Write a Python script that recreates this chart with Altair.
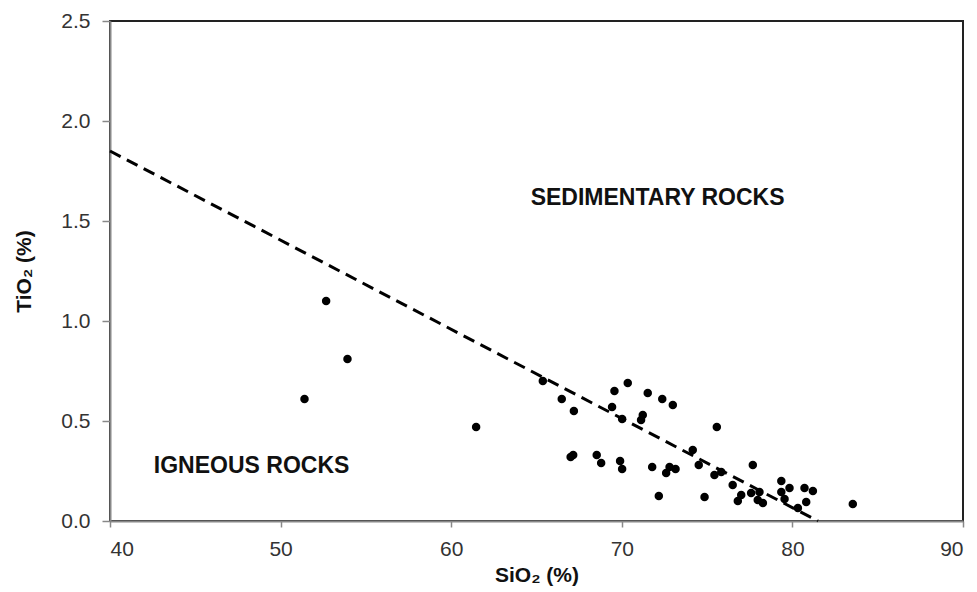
import altair as alt
import pandas as pd

sio2 = [51.4, 52.67, 53.92, 61.46, 65.37, 66.48, 67.19, 69.57, 70.35, 69.43,
        70.02, 71.23, 71.13, 71.52, 72.37, 72.99, 67.0, 67.15, 68.53, 68.79,
        69.9, 70.02, 71.78, 72.6, 72.8, 73.15, 72.17, 75.57, 74.16, 74.51,
        74.85, 75.43, 75.83, 76.5, 77.0, 76.8, 77.68, 77.58, 78.07, 77.97,
        78.27, 79.35, 79.83, 79.35, 79.54, 80.71, 81.2, 80.81, 80.32, 83.54]
tio2 = [0.61, 1.10, 0.81, 0.47, 0.70, 0.61, 0.55, 0.65, 0.69, 0.57,
        0.51, 0.53, 0.505, 0.64, 0.61, 0.58, 0.32, 0.33, 0.33, 0.29,
        0.30, 0.26, 0.27, 0.24, 0.27, 0.26, 0.125, 0.47, 0.355, 0.28,
        0.12, 0.23, 0.245, 0.18, 0.13, 0.10, 0.28, 0.14, 0.145, 0.105,
        0.09, 0.20, 0.165, 0.145, 0.11, 0.165, 0.15, 0.095, 0.065, 0.085]

line_x = [40, 81.5]
line_y = [1.85, 0.0]

label_text = ["SEDIMENTARY ROCKS", "IGNEOUS ROCKS"]
label_x = [72.1, 48.3]
label_y = [1.615, 0.275]

x_ticks = [40, 50, 60, 70, 80, 90]
y_ticks = [0.0, 0.5, 1.0, 1.5, 2.0, 2.5]

pts = pd.DataFrame({"x": sio2, "y": tio2})
ln = pd.DataFrame({"x": line_x, "y": line_y})
lab = pd.DataFrame({"t": label_text, "x": label_x, "y": label_y})

xs = alt.Scale(domain=[40, 90], nice=False, zero=False)
ys = alt.Scale(domain=[0, 2.5], nice=False, zero=False)

xax = alt.Axis(values=x_ticks, title="SiO₂ (%)", format="d", grid=False,
               domainColor="#888888", domainWidth=2, tickColor="#888888",
               tickSize=6, tickWidth=1.5, labelFontSize=21, labelColor="#333333",
               labelPadding=11, titleFontSize=21, titleFontWeight="bold",
               titlePadding=5, titleColor="#111111", labelFont="Liberation Sans",
               titleFont="Liberation Sans")
yax = alt.Axis(values=y_ticks, title="TiO₂ (%)", format=".1f", grid=False,
               domainColor="#888888", domainWidth=2, tickColor="#888888",
               tickSize=8, tickWidth=1.5, labelFontSize=21, labelColor="#333333",
               labelPadding=12, titleFontSize=21, titleFontWeight="bold",
               titlePadding=26, titleColor="#111111", labelFont="Liberation Sans",
               titleFont="Liberation Sans")

points = alt.Chart(pts).mark_circle(size=72, color="black", opacity=1).encode(
    x=alt.X("x:Q", scale=xs, axis=xax),
    y=alt.Y("y:Q", scale=ys, axis=yax),
)

dash = alt.Chart(ln).mark_line(color="black", strokeWidth=3, strokeDash=[12, 7]).encode(
    x=alt.X("x:Q", scale=xs),
    y=alt.Y("y:Q", scale=ys),
)

texts = alt.Chart(lab).mark_text(fontSize=23, fontWeight="bold", color="#111111",
                                 font="Liberation Sans", align="center", baseline="middle").encode(
    x=alt.X("x:Q", scale=xs),
    y=alt.Y("y:Q", scale=ys),
    text="t:N",
)

chart = alt.layer(dash, points, texts).properties(
    width=853, height=500,
    autosize=alt.AutoSizeParams(type="none"),
    padding={"left": 110, "top": 21, "right": 14, "bottom": 71},
    background="white",
).configure_view(stroke="#222222", strokeWidth=2)

chart.save("out.html", embed_options={"renderer": "svg", "actions": False})
